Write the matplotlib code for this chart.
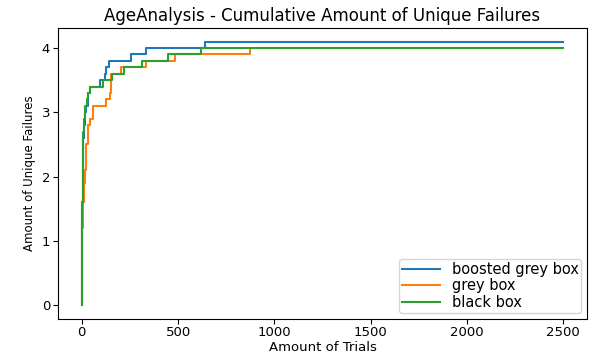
import matplotlib
matplotlib.use("Agg")
import matplotlib.pyplot as plt

# trial index at which each new (averaged) failure count is reached
boosted_x = [0, 2, 5, 8, 12, 18, 24, 30, 45, 97, 119, 125, 142, 258, 333, 639, 2500]
boosted_y = [0, 1.5, 2.2, 2.6, 2.8, 3.0, 3.1, 3.3, 3.4, 3.5, 3.6, 3.7, 3.8, 3.9, 4.0, 4.1, 4.1]

grey_x = [0, 3, 8, 12, 16, 22, 33, 42, 59, 128, 145, 151, 203, 336, 483, 873, 2500]
grey_y = [0, 1.2, 1.6, 1.9, 2.1, 2.5, 2.8, 2.9, 3.1, 3.2, 3.3, 3.6, 3.7, 3.8, 3.9, 4.0, 4.0]

black_x = [0, 2, 5, 8, 12, 18, 25, 32, 45, 111, 158, 220, 315, 449, 619, 2500]
black_y = [0, 1.6, 2.3, 2.7, 2.9, 3.1, 3.2, 3.3, 3.4, 3.5, 3.6, 3.7, 3.8, 3.9, 4.0, 4.0]

fig, ax = plt.subplots(figsize=(5.89, 3.54), dpi=100)
fig.subplots_adjust(left=0.098, right=0.997, top=0.92, bottom=0.10)

ax.step(boosted_x, boosted_y, where='post', label='boosted grey box')
ax.step(grey_x, grey_y, where='post', label='grey box')
ax.step(black_x, black_y, where='post', label='black box')

ax.set_title("AgeAnalysis - Cumulative Amount of Unique Failures", fontsize=12, pad=5)
ax.set_xlabel("Amount of Trials", fontsize=9.5, labelpad=1)
ax.set_ylabel("Amount of Unique Failures", fontsize=8.5, family=['Liberation Sans Narrow', 'DejaVu Sans'])
ax.tick_params(labelsize=9.5, pad=2)
ax.set_xticks([0, 500, 1000, 1500, 2000, 2500])
ax.set_yticks([0, 1, 2, 3, 4])
ax.legend(loc='lower right', fontsize=10.5, labelspacing=0.1, borderaxespad=0.4,
          handlelength=2.6, borderpad=0.2)

plt.savefig("out.png")
